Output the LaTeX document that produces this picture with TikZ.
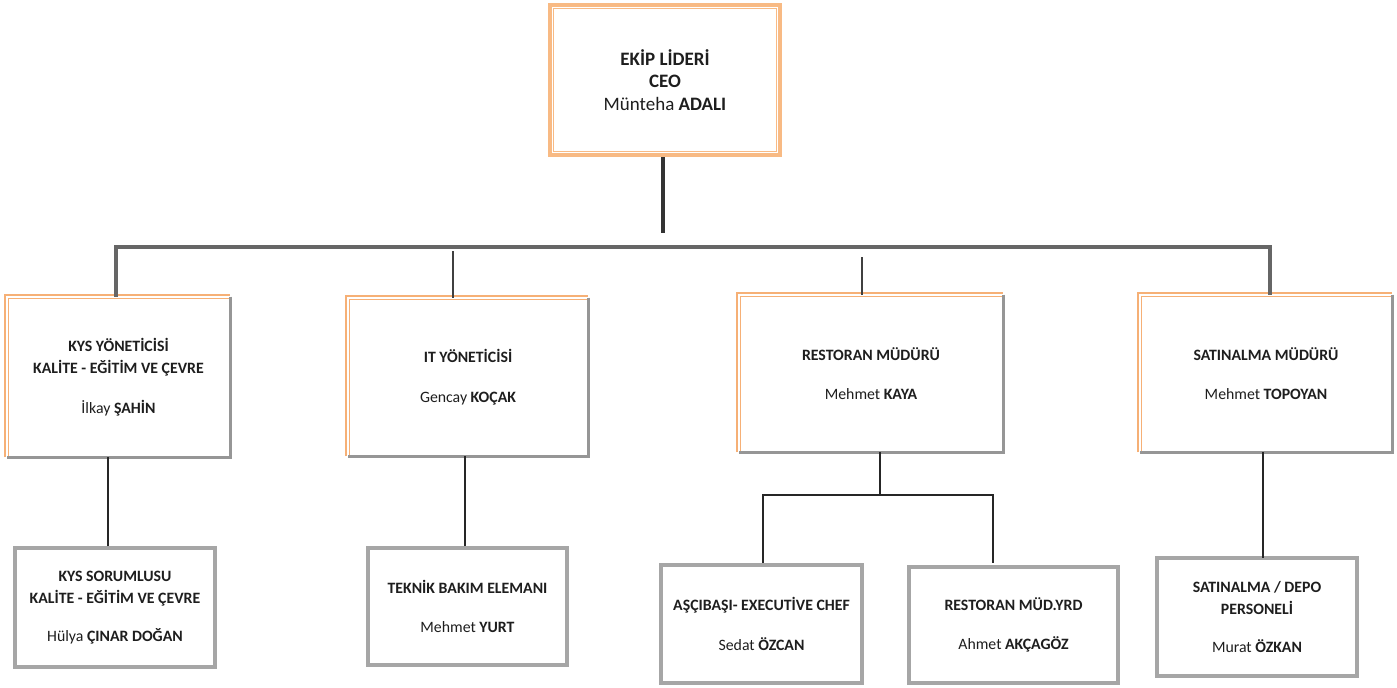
\documentclass[tikz,border=0pt]{standalone}
\usepackage{fontspec}
\setmainfont{Carlito}
\definecolor{ledge}{RGB}{248,186,132}
\definecolor{medge}{RGB}{246,176,118}
\definecolor{gedge}{RGB}{150,150,150}
\definecolor{ink}{RGB}{30,30,30}
\newcommand{\midframe}[1]{%
  \draw[orline] (#1.south west) -- (#1.north west) -- (#1.north east);
  \draw[grline] (#1.north east) -- (#1.south east) -- (#1.south west);}
\begin{document}
\begin{tikzpicture}[x=0.02cm,y=-0.02cm]
\tikzset{
  every node/.style={inner sep=0pt, text=ink, align=center},
  topbox/.style={draw=ledge, line width=2.6pt, fill=white, font=\fontsize{10.8}{13}\selectfont},
  midbox/.style={fill=white, font=\fontsize{9}{12.5}\selectfont},
  lowbox/.style={draw=gedge!85, line width=2.2pt, fill=white, font=\fontsize{9}{12.5}\selectfont},
  orline/.style={draw=medge, double=white, double distance=1pt, line width=0.9pt},
  grline/.style={draw=gedge, line width=1.8pt},
  ceoline/.style={draw=black!80, line width=2pt},
  busline/.style={draw=black!60, line width=1.8pt},
  subline/.style={draw=black!85, line width=1.6pt},
  thinline/.style={draw=black!75, line width=0.9pt}
}
\useasboundingbox (0,0) rectangle (1397,687);

% lider
\node[topbox, minimum width=4.6cm, minimum height=3cm] (lider) at (665,80)
  {\textbf{EKİP LİDERİ}\\\textbf{CEO}\\Münteha \textbf{ADALI}};
\draw[ledge, line width=0.6pt] ([xshift=0.12cm,yshift=0.12cm]lider.south west)
  rectangle ([xshift=-0.12cm,yshift=-0.12cm]lider.north east);

% yoneticiler
\node[midbox, minimum width=4.46cm, minimum height=3.2cm] (kys) at (118.5,377)
  {\textbf{KYS YÖNETİCİSİ}\\\textbf{KALİTE - EĞİTİM VE ÇEVRE}\\[10pt]İlkay \textbf{ŞAHİN}};
\node[midbox, minimum width=4.8cm, minimum height=3.16cm] (it) at (468,377)
  {\textbf{IT YÖNETİCİSİ}\\[10pt]Gencay \textbf{KOÇAK}};
\node[midbox, minimum width=5.28cm, minimum height=3.14cm] (restoran) at (871,373.5)
  {\textbf{RESTORAN MÜDÜRÜ}\\[10pt]Mehmet \textbf{KAYA}};
\node[midbox, minimum width=5.04cm, minimum height=3.14cm] (satinalma) at (1266,373.5)
  {\textbf{SATINALMA MÜDÜRÜ}\\[10pt]Mehmet \textbf{TOPOYAN}};
\midframe{kys}
\midframe{it}
\midframe{restoran}
\midframe{satinalma}

% personel
\node[lowbox, minimum width=4cm, minimum height=2.38cm] (kyssor) at (115,607.5)
  {\textbf{KYS SORUMLUSU}\\\textbf{KALİTE - EĞİTİM VE ÇEVRE}\\[9pt]Hülya \textbf{ÇINAR DOĞAN}};
\node[lowbox, minimum width=3.98cm, minimum height=2.34cm] (teknik) at (467.5,606.5)
  {\textbf{TEKNİK BAKIM ELEMANI}\\[10pt]Mehmet \textbf{YURT}};
\node[lowbox, minimum width=4.02cm, minimum height=2.36cm] (ascibasi) at (761.5,624)
  {\textbf{AŞÇIBAŞI- EXECUTİVE CHEF}\\[10pt]Sedat \textbf{ÖZCAN}};
\node[lowbox, minimum width=4.18cm, minimum height=2.32cm] (restyrd) at (1013.5,625)
  {\textbf{RESTORAN MÜD.YRD}\\[10pt]Ahmet \textbf{AKÇAGÖZ}};
\node[lowbox, minimum width=4cm, minimum height=2.36cm] (satdepo) at (1257,617)
  {\textbf{SATINALMA / DEPO}\\\textbf{PERSONELİ}\\[9pt]Murat \textbf{ÖZKAN}};

% baglantilar
\coordinate (ceoend) at (663,233);
\coordinate (bus) at (663,247);
\coordinate (itTop) at (453,251);
\coordinate (resTop) at (862,257);
\coordinate (rbus) at (880,495);
\coordinate (rydTop) at (993,563);
\coordinate (satDrop) at (1263,558);

\draw[ceoline] (lider.south -| ceoend) -- (ceoend);
\draw[busline] (kys.north -| 116,0) |- (bus) -| (satinalma.north -| 1270,0);
\draw[thinline] (itTop) -- (itTop |- it.north);
\draw[thinline] (resTop) -- (resTop |- restoran.north);

\draw[subline] (kyssor.north -| 108,0) -- (kys.south -| 108,0);
\draw[subline] (teknik.north -| 465,0) -- (it.south -| 465,0);
\draw[subline] (restoran.south -| rbus) -- (rbus);
\draw[subline] (ascibasi.north -| 763,0) |- (rbus) -| (rydTop);
\draw[subline] (satDrop |- satinalma.south) -- (satDrop);
\end{tikzpicture}
\end{document}
